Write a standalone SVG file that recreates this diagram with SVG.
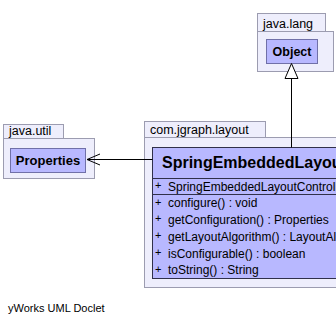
<svg xmlns="http://www.w3.org/2000/svg" width="336" height="324" viewBox="0 0 336 324">
  <style>
    .pkg { fill: #eeeefc; stroke: #9c9cb0; stroke-width: 1; }
    .cls { fill: #b8b8ff; stroke: #7070a8; stroke-width: 1; }
    .main { fill: #b8b8ff; stroke: #30304a; stroke-width: 1; }
    .sep { stroke: #30304a; stroke-width: 1; }
    .pkgname { font-family: "Liberation Sans", Arial, sans-serif; font-size: 12.5px; fill: #000; }
    .clsname { font-family: "Liberation Sans", Arial, sans-serif; font-weight: bold; fill: #000; }
    .member { font-family: "Liberation Sans", Arial, sans-serif; font-size: 12px; fill: #000; }
    .vis { font-family: "Liberation Sans", Arial, sans-serif; font-size: 11px; fill: #000; }
    .edge { stroke: #000; stroke-width: 1; fill: none; }
  </style>

  <rect width="336" height="324" fill="#ffffff"/>

  <!-- package java.lang -->
  <g id="pkg-java-lang">
    <rect class="pkg" x="257.5" y="13.5" width="68" height="18"/>
    <rect class="pkg" x="257.5" y="31.5" width="76" height="40"/>
    <text class="pkgname" x="263" y="28">java.lang</text>
  </g>

  <!-- package java.util -->
  <g id="pkg-java-util">
    <rect class="pkg" x="3.5" y="124.5" width="60" height="14"/>
    <rect class="pkg" x="3.5" y="138.5" width="91" height="40"/>
    <text class="pkgname" x="9" y="135">java.util</text>
  </g>

  <!-- package com.jgraph.layout -->
  <g id="pkg-com-jgraph-layout">
    <rect class="pkg" x="144.5" y="121.5" width="121" height="16"/>
    <rect class="pkg" x="144.5" y="137.5" width="220" height="150"/>
    <text class="pkgname" x="150" y="133.5">com.jgraph.layout</text>
  </g>

  <!-- class Object -->
  <g id="cls-object">
    <rect class="cls" x="266.5" y="39.5" width="51" height="24"/>
    <text class="clsname" x="292" y="56" font-size="12.5" text-anchor="middle">Object</text>
  </g>

  <!-- class Properties -->
  <g id="cls-properties">
    <rect class="cls" x="10.5" y="148.5" width="75" height="24"/>
    <text class="clsname" x="48" y="165" font-size="13" text-anchor="middle">Properties</text>
  </g>

  <!-- class SpringEmbeddedLayoutController -->
  <g id="cls-spring-embedded">
    <rect class="main" x="152.5" y="147.5" width="220" height="131"/>
    <line class="sep" x1="152.5" y1="178.5" x2="372.5" y2="178.5"/>
    <line class="sep" x1="152.5" y1="194.5" x2="372.5" y2="194.5"/>
    <text class="clsname" x="162" y="168" font-size="16">SpringEmbeddedLayoutController</text>
    <text class="vis" x="155" y="189">+</text>
    <text class="member" x="168" y="190.5">SpringEmbeddedLayoutController()</text>
    <text class="vis" x="155" y="205.5">+</text>
    <text class="member" x="168" y="207">configure() : void</text>
    <text class="vis" x="155" y="222">+</text>
    <text class="member" x="168" y="223.5">getConfiguration() : Properties</text>
    <text class="vis" x="155" y="239">+</text>
    <text class="member" x="168" y="240.5">getLayoutAlgorithm() : LayoutAlgorithm</text>
    <text class="vis" x="155" y="256">+</text>
    <text class="member" x="168" y="257.5">isConfigurable() : boolean</text>
    <text class="vis" x="155" y="272.5">+</text>
    <text class="member" x="168" y="274">toString() : String</text>
  </g>

  <!-- connectors -->
  <g id="connectors">
    <!-- generalization to Object -->
    <line class="edge" x1="291.5" y1="78" x2="291.5" y2="147.5"/>
    <polygon points="291.5,63.5 285,78.5 298,78.5" fill="#ffffff" stroke="#000" stroke-width="1"/>
    <!-- association to Properties -->
    <line class="edge" x1="87" y1="159.5" x2="152.5" y2="159.5"/>
    <polyline class="edge" points="100,154 87,159.5 100,165"/>
  </g>

  <text x="8" y="312" font-family="'Liberation Sans', Arial, sans-serif" font-size="11" fill="#000">yWorks UML Doclet</text>
</svg>
